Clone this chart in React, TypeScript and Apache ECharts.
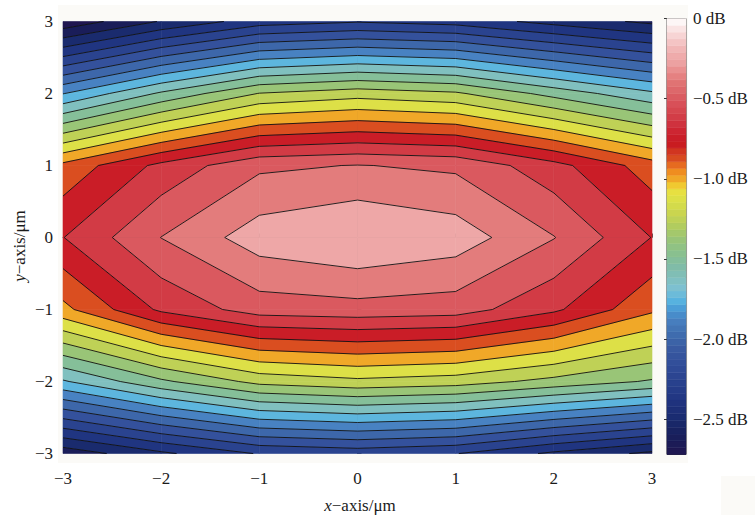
import React, { useEffect, useRef } from "react";
import * as echarts from "echarts";

// grid nodes of the simulated field (µm)
const xValues = [-3, -2, -1, 0, 1, 2, 3];
const yValues = [3, 2, 1, 0, -1, -2, -3];
// normalized power (dB) at each node, one array per row of yValues, columns follow xValues
const zRowP3 = [-2.72, -2.49, -2.31, -2.26, -2.3, -2.42, -2.53];
const zRowP2 = [-1.755, -1.48, -1.245, -1.18, -1.23, -1.42, -1.6];
const zRowP1 = [-0.84, -0.59, -0.4, -0.37, -0.4, -0.58, -0.815];
const zRow0 = [-0.628, -0.373, -0.183, -0.12, -0.18, -0.37, -0.628];
const zRowM1 = [-0.91, -0.6, -0.44, -0.42, -0.44, -0.6, -0.85];
const zRowM2 = [-1.64, -1.4, -1.21, -1.155, -1.19, -1.29, -1.39];
const zRowM3 = [-2.58, -2.4, -2.24, -2.2, -2.245, -2.4, -2.53];
const zRows = [zRowP3, zRowP2, zRowP1, zRow0, zRowM1, zRowM2, zRowM3];

// contour levels (dB)
const levels = [
  -0.25, -0.375, -0.5, -0.625, -0.75, -0.875, -1.0, -1.125, -1.25, -1.375,
  -1.5, -1.625, -1.75, -1.875, -2.0, -2.125, -2.25, -2.375, -2.5, -2.625,
];

// colour bar
const colorbarMin = -2.72;
const colorbarMax = 0;
const colorbarTicks = [0, -0.5, -1.0, -1.5, -2.0, -2.5];
const axisTicks = [-3, -2, -1, 0, 1, 2, 3];

// colormap
const cmapValues = [
  0, -0.05, -0.09, -0.15, -0.21, -0.28, -0.34, -0.4, -0.46, -0.53, -0.59, -0.65, -0.71,
  -0.78, -0.82, -0.87, -0.92, -0.96, -1.0, -1.04, -1.08, -1.13, -1.22, -1.3, -1.38, -1.47,
  -1.55, -1.63, -1.69, -1.76, -1.82, -1.88, -1.96, -2.07, -2.17, -2.28, -2.38, -2.49, -2.59,
  -2.72,
];
const cmapColors = [
  "#ffffff", "#fbeaea", "#f8dada", "#f4c4c4", "#f0b0b0", "#eca0a0", "#e88888", "#e07474",
  "#dc6468", "#d85058", "#d4444c", "#d03440", "#cc2430", "#c81820", "#d03020", "#d84a20",
  "#e87020", "#f09020", "#f0a828", "#f0c830", "#e8e040", "#dce048", "#c8d450", "#b0cc60",
  "#98c478", "#88c090", "#80bca8", "#80c0c0", "#7cc0d4", "#58b4e0", "#4898d4", "#4880c0",
  "#4070b0", "#3858a0", "#304c98", "#28408c", "#203480", "#1a2c70", "#18205c", "#201650",
];

const FONT = "'Liberation Serif', 'Times New Roman', 'DejaVu Serif', serif";

function hexRgb(h: string): number[] {
  const n = parseInt(h.slice(1), 16);
  return [(n >> 16) & 255, (n >> 8) & 255, n & 255];
}
function cmap(v: number): string {
  if (v >= cmapValues[0]) return cmapColors[0];
  const last = cmapValues.length - 1;
  if (v <= cmapValues[last]) return cmapColors[last];
  for (let k = 0; k < last; k++) {
    const a = cmapValues[k];
    const b = cmapValues[k + 1];
    if (v <= a && v >= b) {
      const t = (a - v) / (a - b);
      const ca = hexRgb(cmapColors[k]);
      const cb = hexRgb(cmapColors[k + 1]);
      const c = ca.map((x, i) => Math.round(x + t * (cb[i] - x)));
      return `rgb(${c[0]},${c[1]},${c[2]})`;
    }
  }
  return cmapColors[last];
}

type P = { x: number; y: number; z: number };

function clip(poly: P[], level: number, keepAbove: boolean): P[] {
  const out: P[] = [];
  const inside = (p: P) => (keepAbove ? p.z >= level : p.z <= level);
  for (let i = 0; i < poly.length; i++) {
    const a = poly[i];
    const b = poly[(i + 1) % poly.length];
    const ia = inside(a);
    const ib = inside(b);
    if (ia) out.push(a);
    if (ia !== ib) {
      const t = (level - a.z) / (b.z - a.z);
      out.push({ x: a.x + t * (b.x - a.x), y: a.y + t * (b.y - a.y), z: level });
    }
  }
  return out;
}

function cellQuad(i: number, j: number): P[] {
  return [
    { x: xValues[i], y: yValues[j], z: zRows[j][i] },
    { x: xValues[i + 1], y: yValues[j], z: zRows[j][i + 1] },
    { x: xValues[i + 1], y: yValues[j + 1], z: zRows[j + 1][i + 1] },
    { x: xValues[i], y: yValues[j + 1], z: zRows[j + 1][i] },
  ];
}

function cellLines(q: P[], L: number): [P, P][] {
  const cr: { p: P; exit: boolean }[] = [];
  for (let e = 0; e < 4; e++) {
    const a = q[e];
    const b = q[(e + 1) % 4];
    const ia = a.z >= L;
    const ib = b.z >= L;
    if (ia !== ib) {
      const t = (L - a.z) / (b.z - a.z);
      cr.push({ p: { x: a.x + t * (b.x - a.x), y: a.y + t * (b.y - a.y), z: L }, exit: ia });
    }
  }
  const segs: [P, P][] = [];
  for (let k = 0; k < cr.length; k++) {
    if (!cr[k].exit) continue;
    for (let m = 1; m < cr.length; m++) {
      const c = cr[(k + m) % cr.length];
      if (!c.exit) {
        segs.push([cr[k].p, c.p]);
        break;
      }
    }
  }
  return segs;
}

const ascLevels = [...levels].sort((a, b) => a - b);
const bounds = [-Infinity, ...ascLevels, Infinity];

const cells: number[][] = [];
for (let j = 0; j < yValues.length - 1; j++) {
  for (let i = 0; i < xValues.length - 1; i++) {
    cells.push([
      (xValues[i] + xValues[i + 1]) / 2,
      (yValues[j] + yValues[j + 1]) / 2,
      i,
      j,
    ]);
  }
}

const cbSteps = 64;
const cbHalf = (colorbarMax - colorbarMin) / cbSteps / 2;
const cbData = Array.from({ length: cbSteps }, (_, k) => [
  0.5,
  colorbarMin + (2 * k + 1) * cbHalf,
]);

const minus = (v: number) => (v < 0 ? "\u2212" + Math.abs(v) : String(v));
const dbFmt = (v: number) =>
  (Math.abs(v) < 1e-9 ? "0" : (v < 0 ? "\u2212" : "") + Math.abs(v).toFixed(1)) + " dB";

const labelStyle = { fontFamily: FONT, fontSize: 17, color: "#1a1a1a" };

function buildOption(): any {
  const titleStyle = (t: string) => ({
    text: t,
    rich: { i: { fontStyle: "italic", fontFamily: FONT, fontSize: 17, fill: "#1a1a1a" } },
    fontFamily: FONT,
    fontSize: 17,
    fill: "#1a1a1a",
    align: "center",
    verticalAlign: "middle",
  });
  return {
    animation: false,
    backgroundColor: "#ffffff",
    textStyle: { fontFamily: FONT },
    grid: [
      { left: 63, top: 21.5, width: 589, height: 432, show: false },
      {
        left: 667,
        top: 18.5,
        width: 19,
        height: 436,
        show: true,
        borderColor: "#333",
        borderWidth: 1,
        backgroundColor: "transparent",
      },
    ],
    xAxis: [
      {
        gridIndex: 0,
        type: "value",
        min: -3,
        max: 3,
        interval: 1,
        axisLine: { show: true, lineStyle: { color: "#555", width: 1 } },
        axisTick: { show: true, inside: true, length: 4, lineStyle: { color: "#555" } },
        axisLabel: { ...labelStyle, margin: 16, formatter: minus, customValues: axisTicks },
        splitLine: { show: false },
      },
      { gridIndex: 1, type: "value", min: 0, max: 1, show: false },
    ],
    yAxis: [
      {
        gridIndex: 0,
        type: "value",
        min: -3,
        max: 3,
        interval: 1,
        axisLine: { show: true, lineStyle: { color: "#555", width: 1 } },
        axisTick: { show: true, inside: true, length: 4, lineStyle: { color: "#555" } },
        axisLabel: { ...labelStyle, margin: 10, formatter: minus },
        splitLine: { show: false },
      },
      {
        gridIndex: 1,
        type: "value",
        min: colorbarMin,
        max: colorbarMax,
        position: "right",
        axisLine: { show: false },
        axisTick: {
          show: true,
          inside: true,
          length: 3,
          customValues: colorbarTicks,
          lineStyle: { color: "#333" },
        },
        axisLabel: {
          ...labelStyle,
          margin: 7,
          customValues: colorbarTicks,
          formatter: dbFmt,
        },
        splitLine: { show: false },
      },
    ],
    graphic: [
      {
        type: "rect",
        z: -100,
        silent: true,
        shape: { x: 58, y: 5, width: 630, height: 458 },
        style: { fill: "#fbfaf7" },
      },
      {
        type: "rect",
        z: -100,
        silent: true,
        shape: { x: 721, y: 476, width: 34, height: 39 },
        style: { fill: "#fbfaf7" },
      },
      {
        type: "text",
        z: 100,
        x: 360,
        y: 505,
        style: titleStyle("{i|x}\u2212axis/\u03bcm"),
      },
      {
        type: "text",
        z: 100,
        x: 19,
        y: 246,
        rotation: Math.PI / 2,
        style: titleStyle("{i|y}\u2212axis/\u03bcm"),
      },
    ],
    series: [
      {
        type: "custom",
        name: "fill",
        xAxisIndex: 0,
        yAxisIndex: 0,
        silent: true,
        z: 2,
        encode: { x: 0, y: 1 },
        data: cells,
        renderItem: (_params: any, api: any) => {
          const i = api.value(2) as number;
          const j = api.value(3) as number;
          const q = cellQuad(i, j);
          const zs = q.map((p) => p.z);
          const zmin = Math.min(...zs);
          const zmax = Math.max(...zs);
          const children: any[] = [];
          for (let k = 0; k < bounds.length - 1; k++) {
            const lo = bounds[k];
            const hi = bounds[k + 1];
            if (zmax < lo || zmin > hi) continue;
            let poly = q;
            if (isFinite(lo)) poly = clip(poly, lo, true);
            if (poly.length >= 3 && isFinite(hi)) poly = clip(poly, hi, false);
            if (poly.length < 3) continue;
            const color = cmap(isFinite(lo) ? lo : colorbarMin);
            children.push({
              type: "polygon",
              shape: { points: poly.map((p) => api.coord([p.x, p.y])) },
              style: { fill: color, stroke: color, lineWidth: 0.6 },
            });
          }
          return { type: "group", children };
        },
      },
      {
        type: "custom",
        name: "lines",
        xAxisIndex: 0,
        yAxisIndex: 0,
        silent: true,
        z: 3,
        encode: { x: 0, y: 1 },
        data: cells,
        renderItem: (_params: any, api: any) => {
          const i = api.value(2) as number;
          const j = api.value(3) as number;
          const q = cellQuad(i, j);
          const children: any[] = [];
          for (const L of levels) {
            for (const [a, b] of cellLines(q, L)) {
              const pa = api.coord([a.x, a.y]);
              const pb = api.coord([b.x, b.y]);
              children.push({
                type: "line",
                shape: { x1: pa[0], y1: pa[1], x2: pb[0], y2: pb[1] },
                style: { stroke: "#111", lineWidth: 0.9, fill: null },
              });
            }
          }
          return { type: "group", children };
        },
      },
      {
        type: "custom",
        name: "colorbar",
        xAxisIndex: 1,
        yAxisIndex: 1,
        silent: true,
        z: 2,
        encode: { x: 0, y: 1 },
        data: cbData,
        renderItem: (_params: any, api: any) => {
          const vc = api.value(1) as number;
          const p0 = api.coord([0, vc + cbHalf]);
          const p1 = api.coord([1, vc - cbHalf]);
          const c = cmap(vc);
          return {
            type: "rect",
            shape: { x: p0[0], y: p0[1], width: p1[0] - p0[0], height: p1[1] - p0[1] },
            style: { fill: c, stroke: c, lineWidth: 0.5 },
          };
        },
      },
    ],
  };
}

export default function App() {
  const ref = useRef<HTMLDivElement>(null);
  useEffect(() => {
    if (!ref.current) return;
    const chart = echarts.init(ref.current, null, { renderer: "svg" });
    chart.setOption(buildOption());
    return () => chart.dispose();
  }, []);
  return (
    <div
      ref={ref}
      style={{ position: "fixed", left: 0, top: 0, width: 755, height: 515, background: "#fff" }}
    />
  );
}
